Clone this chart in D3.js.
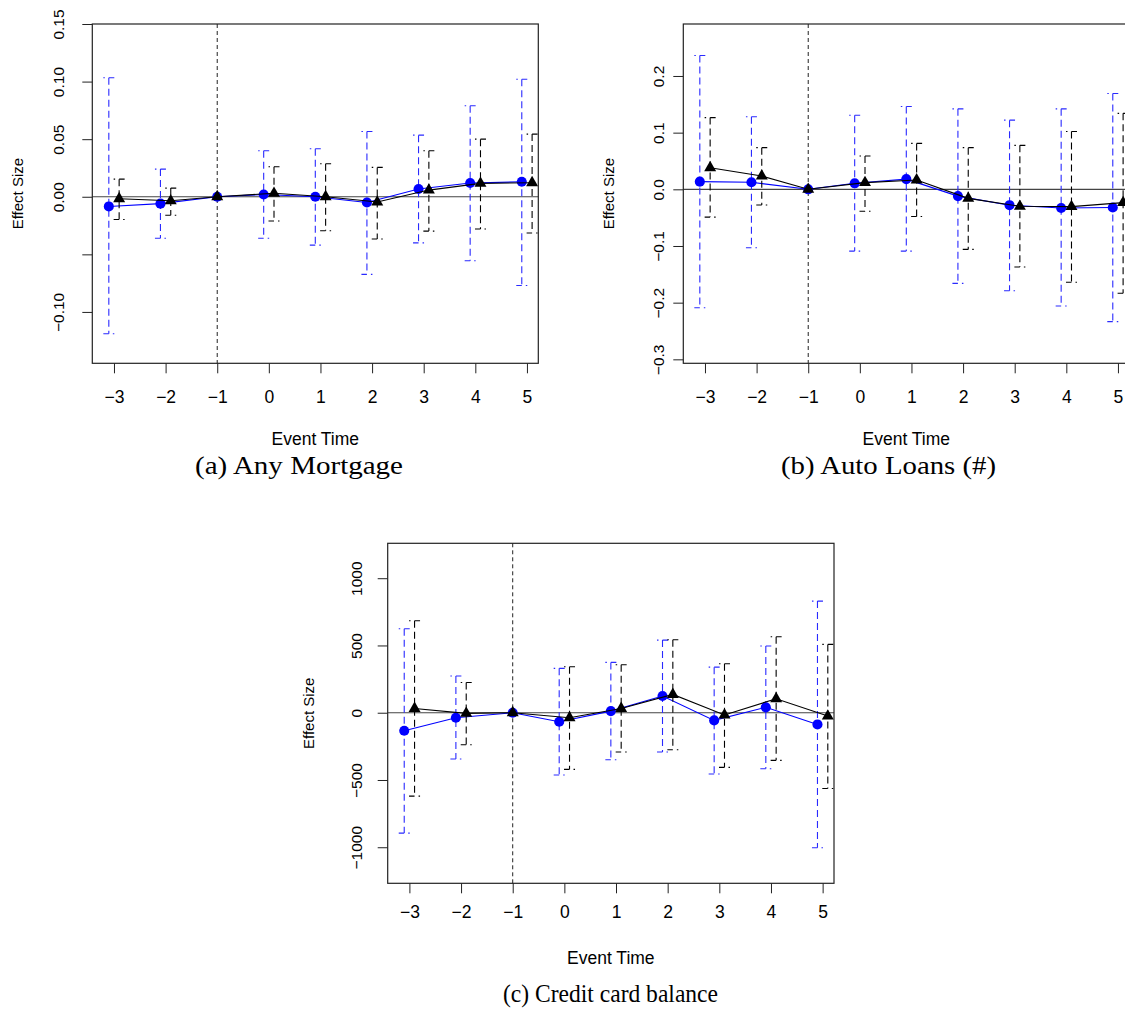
<!DOCTYPE html>
<html>
<head>
<meta charset="utf-8">
<script src="https://cdn.jsdelivr.net/npm/d3@7"></script>
<style>
  body { margin: 0; background: #fff; }
  svg { display: block; }
  .tick text, .lab { font-family: "Liberation Sans", Arial, sans-serif; fill: #000; }
  .cap { font-family: "Liberation Serif", "Times New Roman", serif; fill: #000; }
</style>
</head>
<body>
<svg id="chart" width="1125" height="1009"></svg>
<script>
// event time on the x axis
const eventTime = [-3, -2, -1, 0, 1, 2, 3, 4, 5]

// (a) Any Mortgage
const mortBlue   = [-0.0084, -0.006, 0, 0.002, 0, -0.005, 0.0067, 0.0119, 0.013]
const mortBlueLo = [-0.119, -0.036, 0, -0.036, -0.042, -0.0674, -0.040, -0.0556, -0.077]
const mortBlueHi = [0.1033, 0.024, 0, 0.040, 0.0417, 0.0567, 0.0535, 0.079, 0.102]
const mortBlack   = [-0.0017, -0.0035, 0, 0.003, 0, -0.0046, 0.0058, 0.0116, 0.0122]
const mortBlackLo = [-0.0197, -0.016, 0, -0.021, -0.0295, -0.0367, -0.0298, -0.028, -0.0315]
const mortBlackHi = [0.0153, 0.0075, 0, 0.026, 0.0286, 0.0255, 0.040, 0.050, 0.0544]
const mortTicks = [-0.10, -0.05, 0, 0.05, 0.10, 0.15]
const mortTickLabels = ["\u22120.10", "", "0.00", "0.05", "0.10", "0.15"]

// (b) Auto Loans (#)
const autoBlue   = [0.0135, 0.0124, 0, 0.0106, 0.018, -0.012, -0.028, -0.033, -0.032]
const autoBlueLo = [-0.209, -0.103, 0, -0.109, -0.109, -0.166, -0.179, -0.206, -0.2335]
const autoBlueHi = [0.236, 0.128, 0, 0.1306, 0.146, 0.142, 0.122, 0.142, 0.169]
const autoBlack   = [0.038, 0.0235, 0, 0.0118, 0.0165, -0.016, -0.030, -0.0306, -0.0235]
const autoBlackLo = [-0.049, -0.0276, 0, -0.0388, -0.048, -0.106, -0.137, -0.164, -0.1835]
const autoBlackHi = [0.1265, 0.0735, 0, 0.0588, 0.081, 0.0735, 0.0776, 0.102, 0.134]
const autoTicks = [-0.3, -0.2, -0.1, 0, 0.1, 0.2]
const autoTickLabels = ["\u22120.3", "\u22120.2", "\u22120.1", "0.0", "0.1", "0.2"]

// (c) Credit card balance
const ccBlue   = [-134, -37, 0, -67, 12, 124, -57, 40, -87]
const ccBlueLo = [-895, -344, 0, -463, -349, -292, -456, -416, -1004]
const ccBlueHi = [624, 273, 0, 330, 374, 540, 339, 496, 830]
const ccBlack   = [32, -5, 0, -37, 32, 136, -17, 104, -25]
const ccBlackLo = [-620, -238, 0, -421, -292, -275, -406, -354, -563]
const ccBlackHi = [684, 225, 0, 342, 357, 543, 364, 565, 508]
const ccTicks = [-1000, -500, 0, 500, 1000]
const ccTickLabels = ["\u22121000", "\u2212500", "0", "500", "1000"]

const xTickLabels = ["\u22123", "\u22122", "\u22121", "0", "1", "2", "3", "4", "5"]

const svg = d3.select("#chart")
const dodge = 0.1   // blue left, black right of each tick, except at the reference period

function drawPanel(p) {
    let x = d3.scaleLinear().domain([-3.42, 5.22]).range([p.left, p.left + p.w])
    let y = d3.scaleLinear().domain(p.yDomain).range([p.top + p.h, p.top])
    let g = svg.append("g")

    // axes
    let xAxis = g.append("g")
        .attr("transform", `translate(0,${p.top + p.h})`)
        .call(d3.axisBottom(x).tickValues(eventTime).tickSize(10)
            .tickFormat((d, i) => xTickLabels[i]))
    xAxis.select(".domain").remove()
    xAxis.selectAll(".tick line").attr("stroke", "#222")
    xAxis.selectAll(".tick text").attr("y", p.xLabY - (p.top + p.h)).attr("dy", "0.35em")
        .style("font-size", "17.5px")

    let yAxis = g.append("g")
        .attr("transform", `translate(${p.left},0)`)
        .call(d3.axisLeft(y).tickValues(p.ticks).tickSize(10)
            .tickFormat((d, i) => p.tickLabels[i]))
    yAxis.select(".domain").remove()
    yAxis.selectAll(".tick line").attr("stroke", "#222")
    yAxis.selectAll(".tick text")
        .attr("x", null).attr("dy", null)
        .attr("text-anchor", "middle")
        .attr("transform", `translate(${p.yLabX - p.left},0) rotate(-90)`)
        .attr("dy", "0.35em")
        .style("font-size", "15.5px")

    // reference lines
    g.append("line")
        .attr("x1", p.left).attr("x2", p.left + p.w)
        .attr("y1", y(0)).attr("y2", y(0))
        .attr("stroke", "#444").attr("stroke-width", 1.2)
    g.append("line")
        .attr("x1", x(-1)).attr("x2", x(-1))
        .attr("y1", p.top).attr("y2", p.top + p.h)
        .attr("stroke", "#222").attr("stroke-width", 1).attr("stroke-dasharray", "4,3")

    let series = [
        {est: p.blue, lo: p.blueLo, hi: p.blueHi, col: "#0000ff", ci: "#2a2aff", shift: -dodge, sym: d3.symbolCircle, size: 80},
        {est: p.black, lo: p.blackLo, hi: p.blackHi, col: "#000", ci: "#000", shift: dodge, sym: d3.symbolTriangle, size: 62}
    ]

    series.forEach(s => {
        let pts = eventTime.map((t, i) => ({
            t: t + (t == -1 ? 0 : s.shift), est: s.est[i], lo: s.lo[i], hi: s.hi[i]
        }))
        let cap = 5.5

        // error bars
        let bars = g.append("g").selectAll("g")
            .data(pts.filter(d => d.hi != d.lo))
            .enter().append("g")
        bars.append("line")
            .attr("x1", d => x(d.t)).attr("x2", d => x(d.t))
            .attr("y1", d => y(d.hi)).attr("y2", d => y(d.lo))
            .attr("stroke", s.ci).attr("stroke-width", 1.1).attr("stroke-dasharray", "7,4")
        bars.append("line")
            .attr("x1", d => x(d.t) + cap).attr("x2", d => x(d.t) - cap)
            .attr("y1", d => y(d.hi)).attr("y2", d => y(d.hi))
            .attr("stroke", s.ci).attr("stroke-width", 1.1).attr("stroke-dasharray", "5.5,4,1.5")
        bars.append("line")
            .attr("x1", d => x(d.t) - cap).attr("x2", d => x(d.t) + cap)
            .attr("y1", d => y(d.lo)).attr("y2", d => y(d.lo))
            .attr("stroke", s.ci).attr("stroke-width", 1.1).attr("stroke-dasharray", "5.5,4,1.5")

        // connecting line
        g.append("path")
            .datum(pts)
            .attr("fill", "none").attr("stroke", s.col).attr("stroke-width", 1.1)
            .attr("d", d3.line().x(d => x(d.t)).y(d => y(d.est)))

        g.append("g").selectAll("path")
            .data(pts)
            .enter().append("path")
            .attr("transform", d => `translate(${x(d.t)},${y(d.est)})`)
            .attr("d", d3.symbol().type(s.sym).size(s.size))
            .attr("fill", s.col)
    })

    // box
    g.append("rect")
        .attr("x", p.left).attr("y", p.top).attr("width", p.w).attr("height", p.h)
        .attr("fill", "none").attr("stroke", "#222").attr("stroke-width", 1.2)

    // titles
    g.append("text").attr("class", "lab")
        .attr("x", p.left + p.w / 2).attr("y", p.xTitleY).attr("dy", "0.35em")
        .attr("text-anchor", "middle").style("font-size", "17.5px")
        .text("Event Time")
    g.append("text").attr("class", "lab")
        .attr("transform", `translate(${p.yTitleX},${p.top + p.h / 2}) rotate(-90)`)
        .attr("dy", "0.35em")
        .attr("text-anchor", "middle").style("font-size", "15px")
        .text("Effect Size")
    g.append("text").attr("class", "cap")
        .attr("x", p.capX).attr("y", p.capY).attr("dy", "0.35em")
        .attr("text-anchor", "middle").style("font-size", "26px")
        .attr("textLength", p.capW).attr("lengthAdjust", "spacingAndGlyphs")
        .text(p.caption)
}

drawPanel({
    left: 92.3, top: 24, w: 446, h: 339.3, yDomain: [-0.1446, 0.15],
    ticks: mortTicks, tickLabels: mortTickLabels,
    blue: mortBlue, blueLo: mortBlueLo, blueHi: mortBlueHi,
    black: mortBlack, blackLo: mortBlackLo, blackHi: mortBlackHi,
    xLabY: 396.7, xTitleY: 439, yLabX: 59, yTitleX: 18,
    caption: "(a) Any Mortgage", capX: 299, capY: 465, capW: 208
})

drawPanel({
    left: 683.3, top: 24, w: 446, h: 339.3, yDomain: [-0.307, 0.2917],
    ticks: autoTicks, tickLabels: autoTickLabels,
    blue: autoBlue, blueLo: autoBlueLo, blueHi: autoBlueHi,
    black: autoBlack, blackLo: autoBlackLo, blackHi: autoBlackHi,
    xLabY: 396.7, xTitleY: 439, yLabX: 658.5, yTitleX: 609,
    caption: "(b) Auto Loans (#)", capX: 888.5, capY: 465, capW: 215
})

drawPanel({
    left: 387.7, top: 543.3, w: 446.3, h: 340, yDomain: [-1268, 1259.5],
    ticks: ccTicks, tickLabels: ccTickLabels,
    blue: ccBlue, blueLo: ccBlueLo, blueHi: ccBlueHi,
    black: ccBlack, blackLo: ccBlackLo, blackHi: ccBlackHi,
    xLabY: 912.3, xTitleY: 958.3, yLabX: 356.7, yTitleX: 309,
    caption: "(c) Credit card balance", capX: 610.5, capY: 993, capW: 215
})
</script>
</body>
</html>
